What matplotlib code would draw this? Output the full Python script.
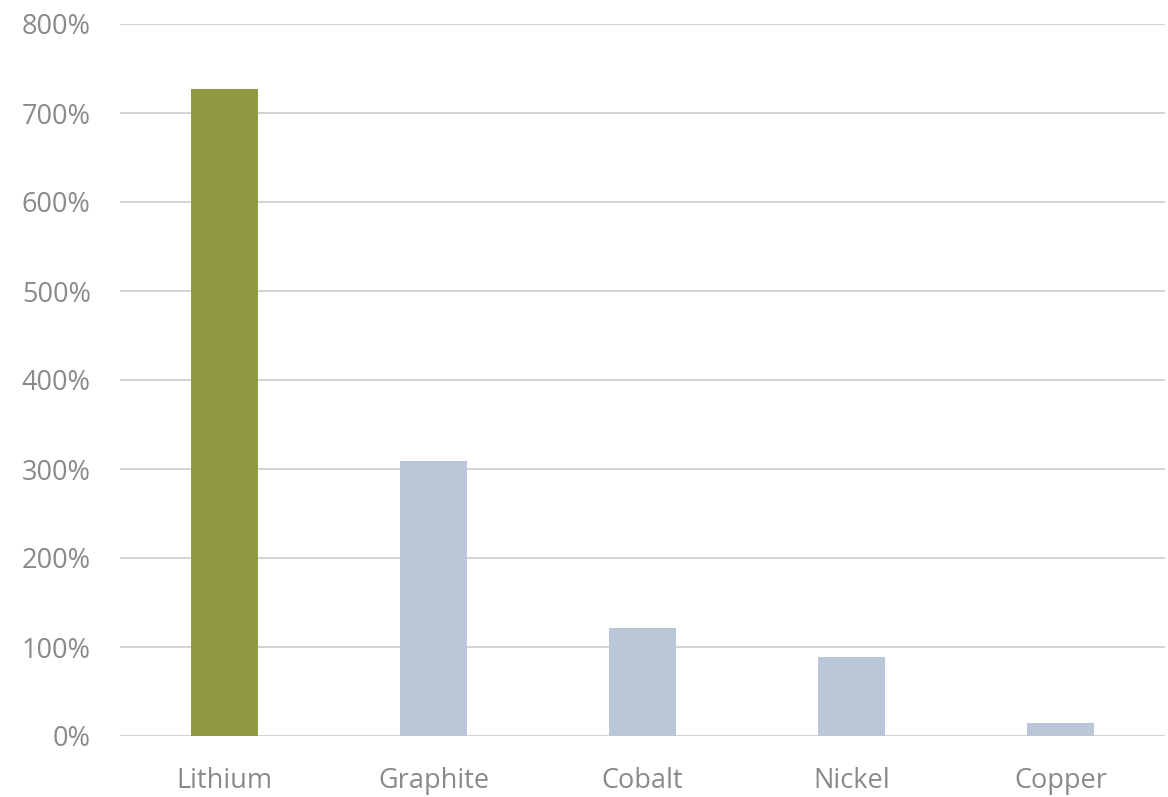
import matplotlib
matplotlib.use("Agg")
import matplotlib.pyplot as plt
from matplotlib.ticker import FuncFormatter

categories = ["Lithium", "Graphite", "Cobalt", "Nickel", "Copper"]
values = [727, 309, 121, 89, 15]
colors = ["#8F9A42", "#BAC7D8", "#BAC7D8", "#BAC7D8", "#BAC7D8"]
yticks = [0, 100, 200, 300, 400, 500, 600, 700, 800]

plt.rcParams['font.family'] = ['Open Sans', 'DejaVu Sans']

fig = plt.figure(figsize=(11.68, 7.97), dpi=100)
ax = fig.add_axes([120/1168, 1 - 736/797, 1045/1168, 712/797])

x = list(range(len(categories)))
ax.bar(x, values, width=0.316, color=colors, zorder=3)
ax.set_xlim(-0.5, len(categories) - 0.5)
ax.set_ylim(0, 800)
ax.set_yticks(yticks)
ax.yaxis.set_major_formatter(FuncFormatter(lambda v, p: f"{int(v)}%"))
ax.set_xticks(x)
ax.set_xticklabels(categories)
ax.grid(axis='y', color='#D0D0D0', linewidth=1.3, zorder=0)
ax.set_axisbelow(True)
for s in ax.spines.values():
    s.set_visible(False)
ax.tick_params(axis='both', length=0, labelsize=19.5, labelcolor='#8A8A8E')
ax.tick_params(axis='y', pad=21)
ax.tick_params(axis='x', pad=22)

fig.savefig("out.png", dpi=100)
